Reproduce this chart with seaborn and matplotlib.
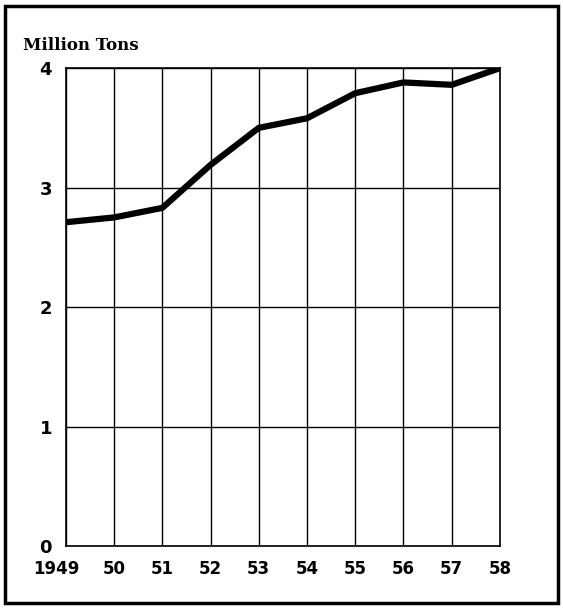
import pandas as pd
import matplotlib
matplotlib.use("Agg")
import matplotlib.pyplot as plt
import matplotlib.transforms as mtransforms
import seaborn as sns
from matplotlib.patches import Rectangle

years = [1949, 1950, 1951, 1952, 1953, 1954, 1955, 1956, 1957, 1958]
year_labels = ["1949", "50", "51", "52", "53", "54", "55", "56", "57", "58"]
tons = [2.71, 2.75, 2.83, 3.19, 3.50, 3.58, 3.79, 3.88, 3.86, 4.00]
y_ticks = [0, 1, 2, 3, 4]

df = pd.DataFrame({"year": years, "tons": tons})

sns.set_style("white")
plt.rcParams["font.family"] = ["DejaVu Sans"]
plt.rcParams["text.color"] = "black"
plt.rcParams["xtick.color"] = "black"
plt.rcParams["ytick.color"] = "black"

fig = plt.figure(figsize=(5.63, 6.08), dpi=100)
ax = fig.add_axes([0.117, 0.102, 0.771, 0.786])

sns.lineplot(data=df, x="year", y="tons", color="black", linewidth=4.5, ax=ax)

ax.set_xlim(1949, 1958)
ax.set_ylim(0, 4)
ax.set_xticks(years)
ax.set_xticklabels(year_labels, fontsize=12, fontweight="bold")
ax.set_yticks(y_ticks)
ax.set_yticklabels([str(t) for t in y_ticks], fontsize=13, fontweight="bold")
ax.tick_params(length=0, pad=10)
ax.tick_params(axis="x", pad=10)

# nudge "1949" a little left, as in the original
first = ax.get_xticklabels()[0]
first.set_transform(first.get_transform() +
                    mtransforms.ScaledTranslation(-0.09, 0, fig.dpi_scale_trans))

ax.grid(True, color="black", linewidth=1)
for s in ax.spines.values():
    s.set_color("black")
    s.set_linewidth(1.2)
ax.set_xlabel("")
ax.set_ylabel("")

fig.text(0.04, 0.912, "Million Tons", fontsize=12, fontweight="bold",
         family="DejaVu Serif", va="bottom", color="black")

# scanned page border
fig.patches.append(Rectangle((0.009, 0.008), 0.983, 0.982, transform=fig.transFigure,
                             fill=False, edgecolor="black", linewidth=2.5))

plt.savefig("out.png", dpi=100)
